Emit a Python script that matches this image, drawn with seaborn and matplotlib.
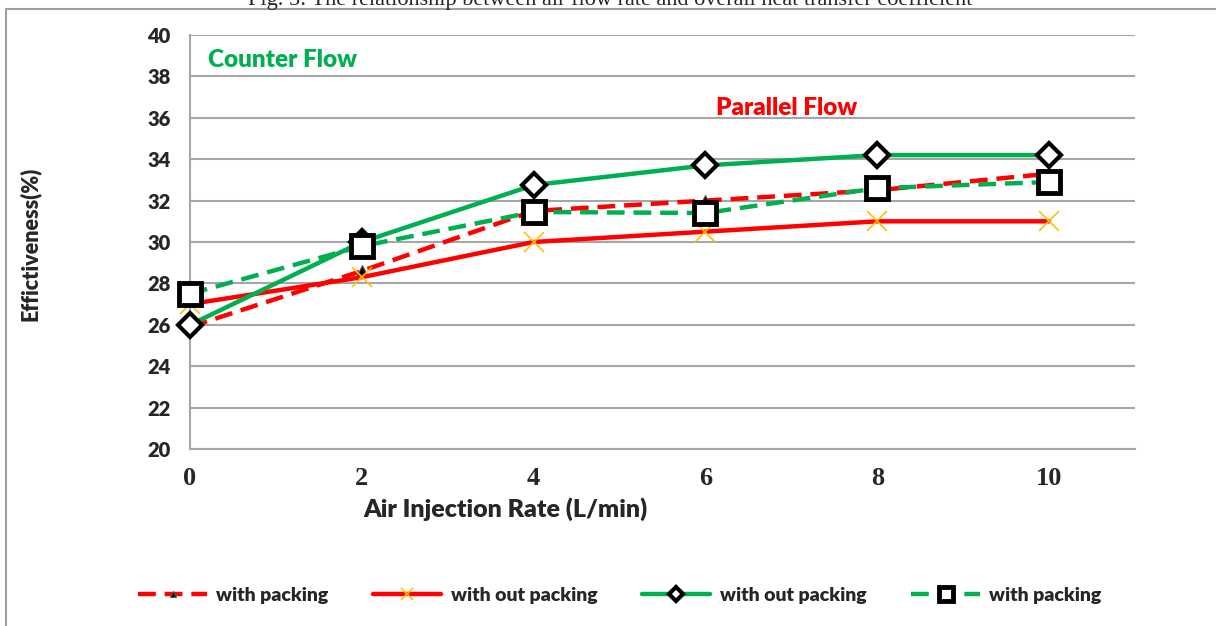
import matplotlib
matplotlib.use("Agg")

import pandas as pd
import matplotlib.pyplot as plt
import seaborn as sns
from matplotlib.patches import Rectangle

# data
rate = [0, 2, 4, 6, 8, 10]
parallel_packing = [25.9, 28.6, 31.5, 32.0, 32.5, 33.3]
parallel_no_packing = [27.0, 28.3, 30.0, 30.5, 31.0, 31.0]
counter_no_packing = [26.0, 30.0, 32.75, 33.7, 34.2, 34.2]
counter_packing = [27.5, 29.8, 31.45, 31.4, 32.6, 32.9]
legend_labels = ["with packing", "with out packing", "with out packing", "with packing"]

RED = "#FF0000"
GREEN = "#00B050"
GOLD = "#FFC000"
GRID = "#A6A6A6"
SANS = "Lato"
SERIF = "Liberation Serif"

sns.set_theme(style="white")
plt.rcParams["font.family"] = [SANS, "DejaVu Sans"]

fig = plt.figure(figsize=(12.16, 6.26), dpi=100)
ax = fig.add_axes([190 / 1216, 1 - 449 / 626, 945 / 1216, 414 / 626])

series = [
    (parallel_packing, dict(color=RED, linestyle=(0, (4, 2)), marker="^",
                            markersize=8, markerfacecolor="black",
                            markeredgecolor="#555555", markeredgewidth=0.8)),
    (parallel_no_packing, dict(color=RED, linestyle="-", marker="x",
                               markersize=14, markeredgecolor=GOLD,
                               markeredgewidth=1.2)),
    (counter_no_packing, dict(color=GREEN, linestyle="-", marker="D",
                              markersize=12, markerfacecolor="white",
                              markeredgecolor="black", markeredgewidth=3)),
    (counter_packing, dict(color=GREEN, linestyle=(0, (4, 2)), marker="s",
                           markersize=16, markerfacecolor="white",
                           markeredgecolor="black", markeredgewidth=3.5)),
]

for (vals, style), lab in zip(series, legend_labels):
    df = pd.DataFrame({"rate": rate, "eff": vals})
    sns.lineplot(data=df, x="rate", y="eff", ax=ax, linewidth=3.2,
                 label=lab, legend=False, clip_on=False, zorder=3, **style)

ax.set_xlim(0, 11)
ax.set_ylim(20, 40)
ax.set_xticks(range(0, 11, 2))
ax.set_yticks(range(20, 41, 2))
ax.grid(axis="y", color=GRID, linewidth=1.5)
ax.grid(axis="x", visible=False)
ax.set_axisbelow(True)
for side in ["top", "right"]:
    ax.spines[side].set_visible(False)
for side in ["left", "bottom"]:
    ax.spines[side].set_color(GRID)
    ax.spines[side].set_linewidth(1.5)

ax.tick_params(axis="y", length=0, pad=14, labelsize=14.5)
ax.tick_params(axis="x", direction="in", length=5, width=1.2, color=GRID,
               pad=13, labelsize=19)
for t in ax.get_yticklabels():
    t.set_fontweight("heavy")
for t in ax.get_xticklabels():
    t.set_fontfamily(SERIF)
    t.set_fontweight("bold")

ax.set_xlabel("Air Injection Rate (L/min)", fontsize=18, fontweight="heavy", va="top")
ax.xaxis.set_label_coords((505 - 190) / 945, -(497 - 449) / 414)
ax.set_ylabel("")
fig.text(30 / 1216, 1 - 244 / 626, "Effictiveness(%)", rotation=90,
         ha="center", va="center", fontsize=15.5, fontweight="heavy")

ax.text(0.21, 38.8, "Counter Flow", color=GREEN, fontsize=17.5,
        fontweight="heavy", ha="left", va="center")
ax.text(6.12, 36.45, "Parallel Flow", color=RED, fontsize=17.5,
        fontweight="heavy", ha="left", va="center")

handles, labels = ax.get_legend_handles_labels()
fig.legend(handles, labels, loc="center", ncol=4,
           bbox_to_anchor=(620 / 1216, 1 - 595 / 626), frameon=False,
           prop={"family": SANS, "weight": "heavy", "size": 14},
           handlelength=3.5, columnspacing=2.3, handletextpad=0.5,
           markerscale=0.6)

# caption cut off at the top of the image, as in the original page
fig.text(610 / 1216, 1 - 5 / 626,
         "Fig. 5: The relationship between air flow rate and overall heat transfer coefficient",
         ha="center", va="baseline", fontsize=16, family=SERIF)

# outer frame of the pasted chart
fig.patches.append(Rectangle((6 / 1216, -0.5), 2, 1.5 - 9 / 626,
                             transform=fig.transFigure, fill=False,
                             edgecolor="#A0A0A0", linewidth=1.5))

fig.savefig("out.png", dpi=100)
